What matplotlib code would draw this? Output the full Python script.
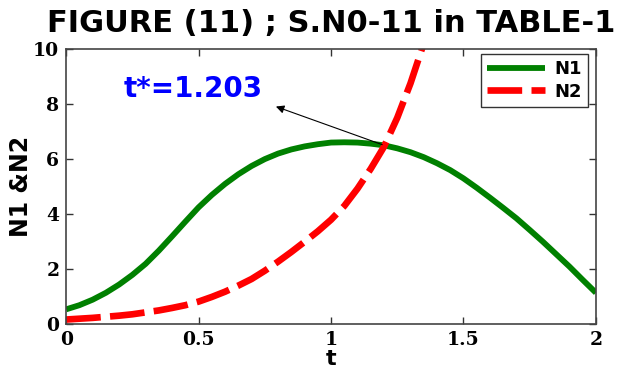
import matplotlib
matplotlib.use("Agg")
import matplotlib.pyplot as plt

# values (every 0.05 in t)
t1 = [0.0, 0.05, 0.1, 0.15, 0.2, 0.25, 0.3, 0.35, 0.4, 0.45, 0.5,
      0.55, 0.6, 0.65, 0.7, 0.75, 0.8, 0.85, 0.9, 0.95, 1.0,
      1.05, 1.1, 1.15, 1.2, 1.25, 1.3, 1.35, 1.4, 1.45, 1.5,
      1.55, 1.6, 1.65, 1.7, 1.75, 1.8, 1.85, 1.9, 1.95, 2.0]
n1 = [0.55, 0.7, 0.9, 1.15, 1.45, 1.8, 2.2, 2.68, 3.2, 3.73, 4.25,
      4.7, 5.1, 5.45, 5.75, 6.0, 6.2, 6.35, 6.46, 6.54, 6.6,
      6.61, 6.6, 6.56, 6.5, 6.39, 6.25, 6.07, 5.85, 5.6, 5.3,
      4.96, 4.6, 4.23, 3.85, 3.43, 3.0, 2.55, 2.1, 1.62, 1.15]

t2 = [0.0, 0.05, 0.1, 0.15, 0.2, 0.25, 0.3, 0.35, 0.4, 0.45, 0.5,
      0.55, 0.6, 0.65, 0.7, 0.75, 0.8, 0.85, 0.9, 0.95, 1.0,
      1.05, 1.1, 1.15, 1.2, 1.25, 1.3, 1.35, 1.4]
n2 = [0.18, 0.21, 0.24, 0.28, 0.32, 0.37, 0.44, 0.51, 0.6, 0.7, 0.83,
      1.0, 1.19, 1.41, 1.65, 1.95, 2.28, 2.63, 3.0, 3.38, 3.8,
      4.3, 4.93, 5.65, 6.45, 7.5, 8.75, 10.2, 11.8]

xticks = [0, 0.5, 1, 1.5, 2]
xtick_labels = ["0", "0.5", "1", "1.5", "2"]
yticks = [0, 2, 4, 6, 8, 10]

t_star = 1.203
n_star = 6.49
label_pos = (0.216, 8.24)
arrow_head = (0.782, 7.94)

fig = plt.figure(figsize=(6.36, 3.70), dpi=100)
ax = fig.add_axes([0.104, 0.123, 0.833, 0.745])

ax.plot(t1, n1, color="#008000", lw=4.2, label="N1", solid_capstyle="butt")
ax.plot(t2, n2, color="#ff0000", lw=4.8, label="N2",
        dashes=(5.2, 1.4), dash_capstyle="butt")

ax.set_xlim(0, 2)
ax.set_ylim(0, 10)
ax.set_xticks(xticks)
ax.set_xticklabels(xtick_labels)
ax.set_yticks(yticks)

# matlab style ticks: inside and on every side
ax.tick_params(direction="in", length=5, width=1, top=True, right=True,
               color="#333333", pad=5)
for lab in ax.get_xticklabels() + ax.get_yticklabels():
    lab.set_family("DejaVu Serif")
    lab.set_fontweight("bold")
    lab.set_fontsize(13.5)
for sp in ax.spines.values():
    sp.set_color("#444444")
    sp.set_linewidth(1.2)

ax.set_xlabel("t", fontsize=16, fontweight="bold", labelpad=0)
ax.set_ylabel("N1 &N2", fontsize=17, fontweight="bold", labelpad=0)
ax.set_title("FIGURE (11) ; S.N0-11 in TABLE-1", fontsize=22,
             fontweight="bold", pad=12)

ax.annotate("", xy=arrow_head, xytext=(t_star, n_star),
            arrowprops=dict(arrowstyle="-|>", color="black", lw=0.8,
                            mutation_scale=12))
ax.text(label_pos[0], label_pos[1], "t*=1.203", color="#0000ff",
        fontsize=20, fontweight="bold")

leg = ax.legend(loc="upper right", bbox_to_anchor=(0.985, 0.982),
                borderaxespad=0, fancybox=False, handlelength=3.2,
                prop={"weight": "bold", "size": 13}, labelspacing=0.25,
                borderpad=0.35, handletextpad=0.5)
leg.get_frame().set_edgecolor("black")
leg.get_frame().set_linewidth(1.0)

fig.savefig("out.png", dpi=100)
